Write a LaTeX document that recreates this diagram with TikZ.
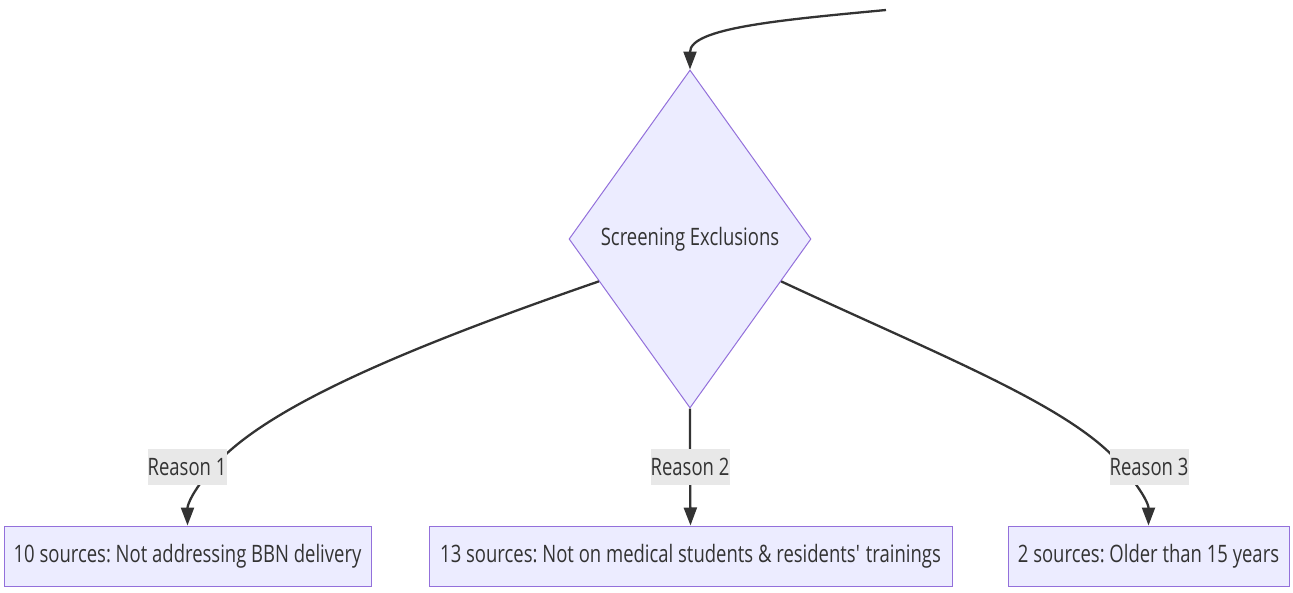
\documentclass[tikz,border=0pt]{standalone}
\usepackage{fontspec}
\setmainfont{Open Sans}[FakeStretch=0.77]
\usetikzlibrary{shapes.geometric,arrows.meta,calc}
\definecolor{nodefill}{HTML}{ECECFF}
\definecolor{nodeline}{HTML}{9370DB}
\definecolor{edgecol}{HTML}{333333}
\definecolor{txtcol}{HTML}{333333}
\definecolor{lblfill}{HTML}{E8E8E8}
\frenchspacing
\begin{document}
\begin{tikzpicture}[x=1pt,y=-1pt,
  every node/.style={text=txtcol,font=\fontsize{24}{28}\selectfont},
  decision/.style={diamond,draw=nodeline,fill=nodefill,line width=1pt,minimum width=242pt,minimum height=338pt,inner sep=0pt},
  boxnode/.style={rectangle,draw=nodeline,fill=nodefill,line width=1pt,minimum height=60pt,inner sep=0pt},
  lbl/.style={fill=lblfill,minimum width=79pt,minimum height=36pt,inner sep=0pt},
  conn/.style={draw=edgecol,line width=2.3pt,-{Triangle[length=18pt,width=13pt]}}
]
\useasboundingbox (0,0) rectangle (1293,592);
\node[decision] (D) at (690,239) {Screening Exclusions};
\node[boxnode,minimum width=367pt] (b1) at (187.5,556) {10 sources: Not addressing BBN delivery};
\node[boxnode,minimum width=523pt] (b2) at (690.5,556) {13 sources: Not on medical students \& residents\textquotesingle{} trainings};
\node[boxnode,minimum width=281pt] (b3) at (1148.5,556) {2 sources: Older than 15 years};
\coordinate (start) at (886,10);
\coordinate (L) at ($(D.west)!0.25!(D.south)$);
\coordinate (R) at ($(D.east)!0.25!(D.south)$);
\coordinate (r1) at (187,467);
\coordinate (r2) at (690,467);
\coordinate (r3) at (1149,467);
\draw[conn] (start) .. controls (780,20) and (690,28) .. (D.north);
\draw[conn] (L) .. controls (400,350) and (260,410) .. (211,470) .. controls (192,492) and (187.5,505) .. (b1.north);
\draw[conn] (D.south) -- (r2) -- (b2.north);
\draw[conn] (R) .. controls (950,360) and (1080,410) .. (1125,470) .. controls (1145,495) and (1148.5,505) .. (b3.north);
\node[lbl] (t1) at (r1) {Reason 1};
\node[lbl] (t2) at (r2) {Reason 2};
\node[lbl] (t3) at (r3) {Reason 3};
\end{tikzpicture}
\end{document}
